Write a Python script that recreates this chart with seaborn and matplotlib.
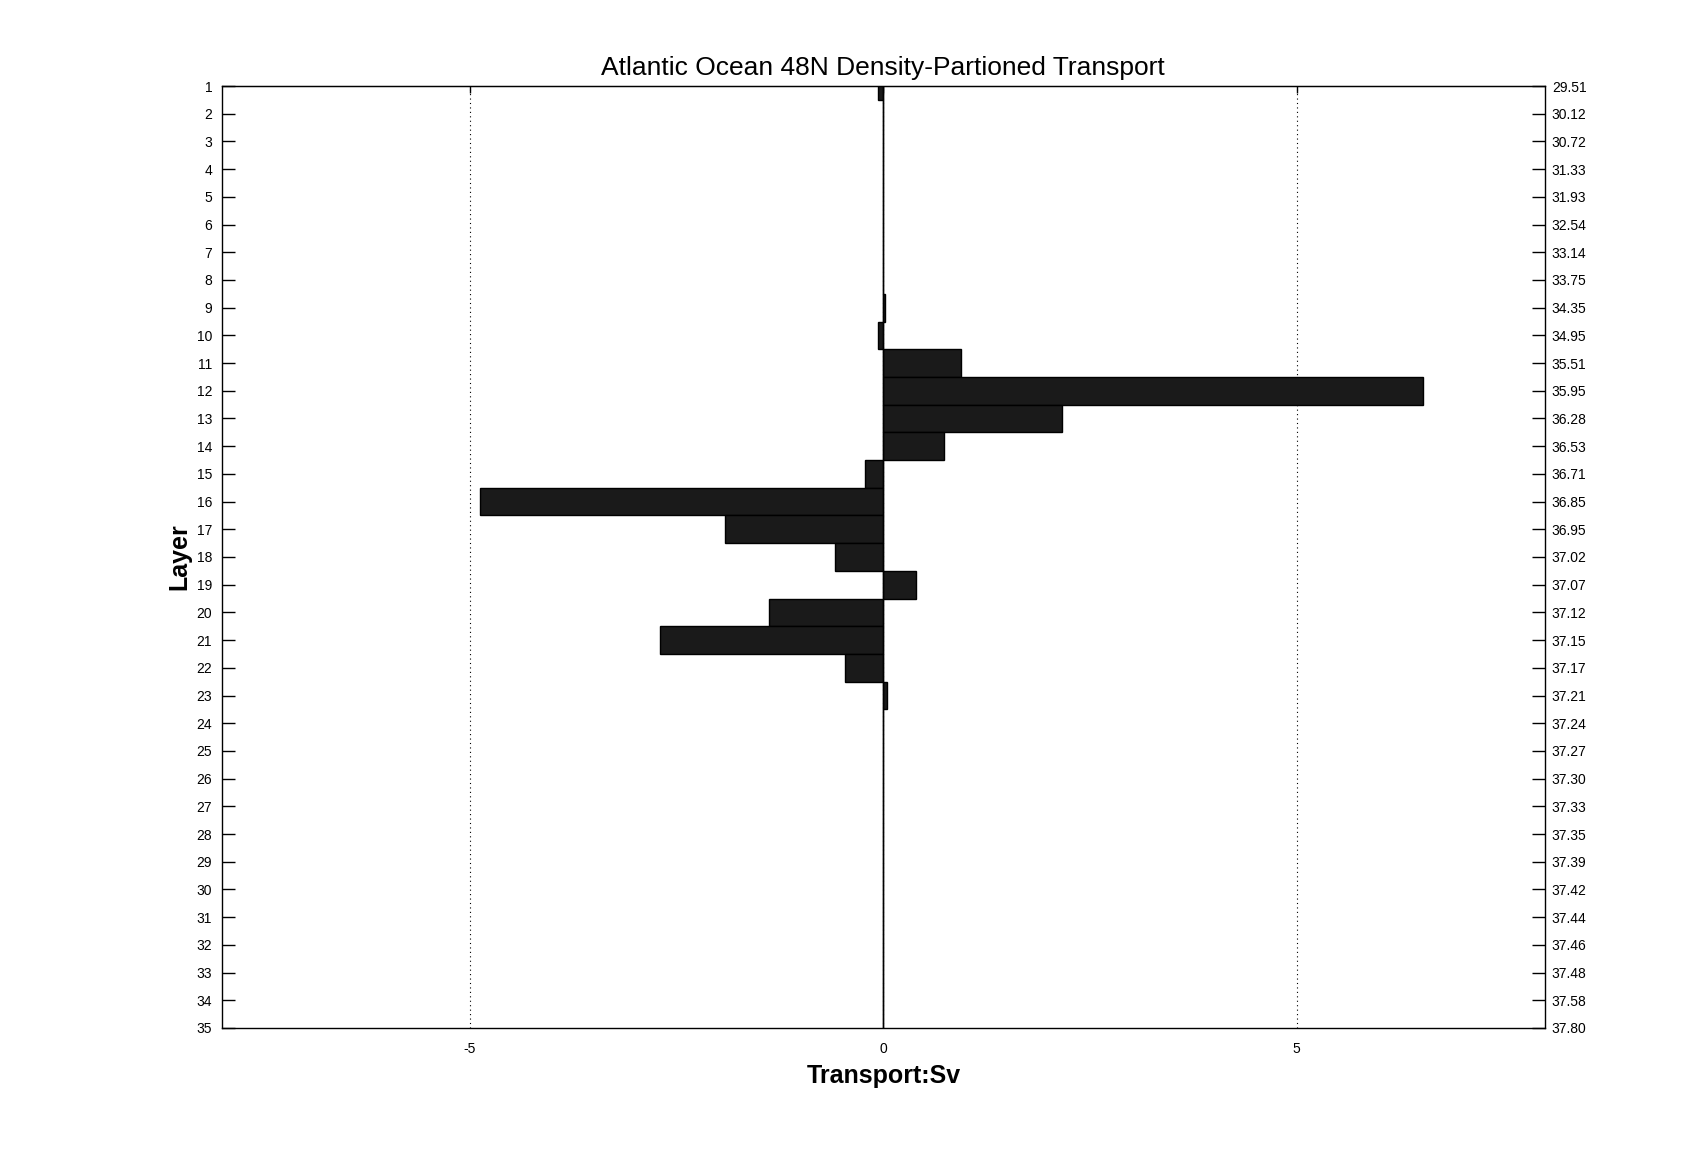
"""
Atlantic Ocean 48N density-partitioned transport, by layer.
"""

import numpy as np
import pandas as pd
import matplotlib
matplotlib.use("Agg")
import matplotlib.pyplot as plt
import seaborn as sns

# layer index 1..35 and transport per layer (Sv)
layers = list(range(1, 36))
transport = [-0.06, 0.0, 0.0, 0.0, 0.0, 0.0, 0.0, 0.0, 0.02, -0.07,
             0.94, 6.53, 2.16, 0.73, -0.22, -4.88, -1.91, -0.59, 0.39, -1.38,
             -2.70, -0.46, 0.04, 0.0, 0.0, 0.0, 0.0, 0.0, 0.0, 0.0,
             0.0, 0.0, 0.0, 0.0, 0.0]
# density labels on the right axis
density_labels = ["29.51", "30.12", "30.72", "31.33", "31.93", "32.54", "33.14",
                  "33.75", "34.35", "34.95", "35.51", "35.95", "36.28", "36.53",
                  "36.71", "36.85", "36.95", "37.02", "37.07", "37.12", "37.15",
                  "37.17", "37.21", "37.24", "37.27", "37.30", "37.33", "37.35",
                  "37.39", "37.42", "37.44", "37.46", "37.48", "37.58", "37.80"]
x_ticks = [-5, 0, 5]

sns.set_style("white")
plt.rcParams['font.family'] = ['Liberation Sans', 'DejaVu Sans']
plt.rcParams['text.color'] = 'black'
plt.rcParams['axes.labelcolor'] = 'black'

df = pd.DataFrame({"layer": layers, "transport": transport})

fig = plt.figure(figsize=(17.07, 11.55), dpi=100)
ax = fig.add_axes([0.130, 0.110, 0.775, 0.8155])

sns.barplot(data=df, x="transport", y="layer", orient="h", order=layers,
            width=1.0, color="#1a1a1a", saturation=1, edgecolor="black",
            linewidth=1.0, ax=ax)

ax.axvline(0, color="black", linewidth=1.0, zorder=3)
ax.set_xlim(-8, 8)
ax.set_ylim(len(layers) - 1, 0)
ax.set_xticks(x_ticks)
ax.set_xticklabels([str(t) for t in x_ticks])
ax.set_yticks(range(len(layers)))
ax.set_yticklabels([str(l) for l in layers])
ax.xaxis.grid(True, linestyle=(0, (1, 3)), color="black", linewidth=0.8)
ax.set_axisbelow(True)

for s in ax.spines.values():
    s.set_visible(True)
    s.set_color("black")
    s.set_linewidth(1.0)

ax.tick_params(axis="y", direction="in", length=9.4, width=1.0,
               labelsize=10, colors="black", pad=7)
ax.tick_params(axis="x", direction="in", length=10.8, width=1.0,
               labelsize=10, colors="black", pad=10, top=False)
# short ticks along the top edge
ax_top = ax.secondary_xaxis("top")
ax_top.set_xticks(x_ticks)
ax_top.set_xticklabels([])
ax_top.tick_params(direction="in", length=5, width=1.0, colors="black")

ax2 = ax.twinx()
ax2.set_ylim(ax.get_ylim())
ax2.set_yticks(range(len(layers)))
ax2.set_yticklabels(density_labels)
ax2.tick_params(axis="y", direction="in", length=9.4, width=1.0,
                labelsize=10, colors="black", pad=5)
for s in ax2.spines.values():
    s.set_visible(False)

ax.set_title("Atlantic Ocean 48N Density-Partioned Transport", fontsize=19, pad=8)
ax.set_xlabel("Transport:Sv", fontsize=18, fontweight="bold", labelpad=6)
ax.set_ylabel("Layer", fontsize=18, fontweight="bold", labelpad=4)

fig.savefig("out.png", dpi=100)
